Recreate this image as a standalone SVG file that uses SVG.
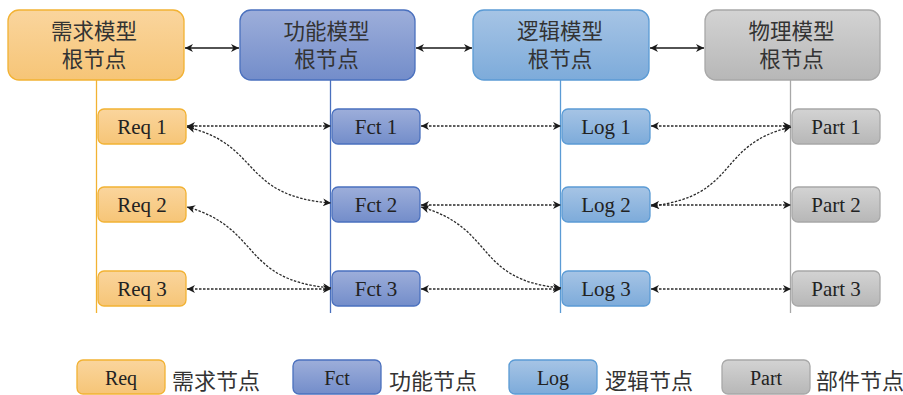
<svg xmlns="http://www.w3.org/2000/svg" width="903" height="395" viewBox="0 0 903 395">
  <defs>
    <linearGradient id="gReq" x1="0" y1="0" x2="0" y2="1">
      <stop offset="0" stop-color="#FAD59D"/>
      <stop offset="1" stop-color="#F6C577"/>
    </linearGradient>
    <linearGradient id="gFct" x1="0" y1="0" x2="0" y2="1">
      <stop offset="0" stop-color="#9DAEDA"/>
      <stop offset="1" stop-color="#738DCA"/>
    </linearGradient>
    <linearGradient id="gLog" x1="0" y1="0" x2="0" y2="1">
      <stop offset="0" stop-color="#A6C4E5"/>
      <stop offset="1" stop-color="#7DABDA"/>
    </linearGradient>
    <linearGradient id="gPart" x1="0" y1="0" x2="0" y2="1">
      <stop offset="0" stop-color="#D3D3D3"/>
      <stop offset="1" stop-color="#B7B7B7"/>
    </linearGradient>
    <marker id="arr" viewBox="0 0 10 10" refX="10" refY="5" markerWidth="9" markerHeight="8" markerUnits="userSpaceOnUse" orient="auto-start-reverse">
      <path d="M0,0 L10,5 L0,10 L3,5 z" fill="#1a1a1a" stroke="none"/>
    </marker>
  </defs>
  <style>
    .req { fill: url(#gReq); stroke: #F2B233; stroke-width: 1.3; }
    .fct { fill: url(#gFct); stroke: #4A70BE; stroke-width: 1.3; }
    .log { fill: url(#gLog); stroke: #5B9BD5; stroke-width: 1.3; }
    .part { fill: url(#gPart); stroke: #A8A8A8; stroke-width: 1.3; }
    .cn { font-family: "Noto Sans CJK SC", "Liberation Serif", sans-serif; font-size: 21.5px; fill: #333333; text-anchor: middle; }
    .cnl { font-family: "Noto Sans CJK SC", "Liberation Serif", sans-serif; font-size: 22px; fill: #333333; }
    .lbl { font-family: "Liberation Serif", serif; font-size: 21px; fill: #222222; text-anchor: middle; }
    .solid { fill: none; stroke: #1a1a1a; stroke-width: 1.4; marker-start: url(#arr); marker-end: url(#arr); }
    .dot { fill: none; stroke: #2a2a2a; stroke-width: 1.3; stroke-dasharray: 2.5 1.5; marker-start: url(#arr); marker-end: url(#arr); }
  </style>

  <!-- swimlane axes -->
  <g id="axes" stroke-width="1.3">
    <line x1="96.5" y1="80" x2="96.5" y2="313" stroke="#F2B233"/>
    <line x1="330.5" y1="80" x2="330.5" y2="313" stroke="#4A70BE"/>
    <line x1="560.5" y1="80" x2="560.5" y2="313" stroke="#5B9BD5"/>
    <line x1="790.5" y1="80" x2="790.5" y2="313" stroke="#A8A8A8"/>
  </g>

  <!-- root nodes -->
  <g id="root-req">
    <rect class="req" x="8" y="10" width="176" height="70" rx="11"/>
    <text class="cn" x="94" y="38.5">需求模型</text>
    <text class="cn" x="94" y="66.5">根节点</text>
  </g>
  <g id="root-fct">
    <rect class="fct" x="240" y="10" width="175" height="70" rx="11"/>
    <text class="cn" x="326.5" y="38.5">功能模型</text>
    <text class="cn" x="326.5" y="66.5">根节点</text>
  </g>
  <g id="root-log">
    <rect class="log" x="473" y="10" width="176" height="70" rx="11"/>
    <text class="cn" x="560" y="38.5">逻辑模型</text>
    <text class="cn" x="560" y="66.5">根节点</text>
  </g>
  <g id="root-part">
    <rect class="part" x="705" y="10" width="175" height="70" rx="11"/>
    <text class="cn" x="791.5" y="38.5">物理模型</text>
    <text class="cn" x="791.5" y="66.5">根节点</text>
  </g>

  <!-- requirement nodes -->
  <g id="req1"><rect class="req" x="98" y="109" width="88" height="35" rx="6"/><text class="lbl" x="142" y="133.5">Req 1</text></g>
  <g id="req2"><rect class="req" x="98" y="187" width="88" height="35" rx="6"/><text class="lbl" x="142" y="211.5">Req 2</text></g>
  <g id="req3"><rect class="req" x="98" y="271" width="88" height="35" rx="6"/><text class="lbl" x="142" y="295.5">Req 3</text></g>

  <!-- function nodes -->
  <g id="fct1"><rect class="fct" x="332" y="109" width="88" height="35" rx="6"/><text class="lbl" x="376" y="133.5">Fct 1</text></g>
  <g id="fct2"><rect class="fct" x="332" y="187" width="88" height="35" rx="6"/><text class="lbl" x="376" y="211.5">Fct 2</text></g>
  <g id="fct3"><rect class="fct" x="332" y="271" width="88" height="35" rx="6"/><text class="lbl" x="376" y="295.5">Fct 3</text></g>

  <!-- logical nodes -->
  <g id="log1"><rect class="log" x="562" y="109" width="88" height="35" rx="6"/><text class="lbl" x="606" y="133.5">Log 1</text></g>
  <g id="log2"><rect class="log" x="562" y="187" width="88" height="35" rx="6"/><text class="lbl" x="606" y="211.5">Log 2</text></g>
  <g id="log3"><rect class="log" x="562" y="271" width="88" height="35" rx="6"/><text class="lbl" x="606" y="295.5">Log 3</text></g>

  <!-- part nodes -->
  <g id="part1"><rect class="part" x="792" y="109" width="88" height="35" rx="6"/><text class="lbl" x="836" y="133.5">Part 1</text></g>
  <g id="part2"><rect class="part" x="792" y="187" width="88" height="35" rx="6"/><text class="lbl" x="836" y="211.5">Part 2</text></g>
  <g id="part3"><rect class="part" x="792" y="271" width="88" height="35" rx="6"/><text class="lbl" x="836" y="295.5">Part 3</text></g>

  <!-- connectors -->
  <g id="connectors">
    <line class="solid" x1="185" y1="48" x2="239" y2="48"/>
    <line class="solid" x1="416" y1="48" x2="472" y2="48"/>
    <line class="solid" x1="650" y1="48" x2="704" y2="48"/>

    <line class="dot" x1="187" y1="126" x2="331" y2="126"/>
    <line class="dot" x1="421" y1="126" x2="561" y2="126"/>
    <line class="dot" x1="651" y1="126" x2="791" y2="126"/>

    <line class="dot" x1="421" y1="205" x2="561" y2="205"/>
    <line class="dot" x1="651" y1="205" x2="791" y2="205"/>

    <line class="dot" x1="187" y1="289" x2="331" y2="289"/>
    <line class="dot" x1="421" y1="289" x2="561" y2="289"/>
    <line class="dot" x1="651" y1="289" x2="791" y2="289"/>

    <path class="dot" d="M187,127 C262,145 240,196 331,203"/>
    <path class="dot" d="M187,207 C262,228 240,280 331,288"/>
    <path class="dot" d="M421,207 C496,228 474,280 561,288"/>
    <path class="dot" d="M651,206 C740,196 715,145 791,127"/>
  </g>

  <!-- legend -->
  <g id="legend-req">
    <rect class="req" x="77" y="360" width="88" height="34" rx="6"/>
    <text class="lbl" x="121" y="385" style="font-size:20px">Req</text>
    <text class="cnl" x="172" y="389">需求节点</text>
  </g>
  <g id="legend-fct">
    <rect class="fct" x="293" y="360" width="88" height="34" rx="6"/>
    <text class="lbl" x="337" y="385" style="font-size:20px">Fct</text>
    <text class="cnl" x="389" y="389">功能节点</text>
  </g>
  <g id="legend-log">
    <rect class="log" x="509" y="360" width="88" height="34" rx="6"/>
    <text class="lbl" x="553" y="385" style="font-size:20px">Log</text>
    <text class="cnl" x="605" y="389">逻辑节点</text>
  </g>
  <g id="legend-part">
    <rect class="part" x="722" y="360" width="88" height="34" rx="6"/>
    <text class="lbl" x="766" y="385" style="font-size:20px">Part</text>
    <text class="cnl" x="816" y="389">部件节点</text>
  </g>
</svg>
